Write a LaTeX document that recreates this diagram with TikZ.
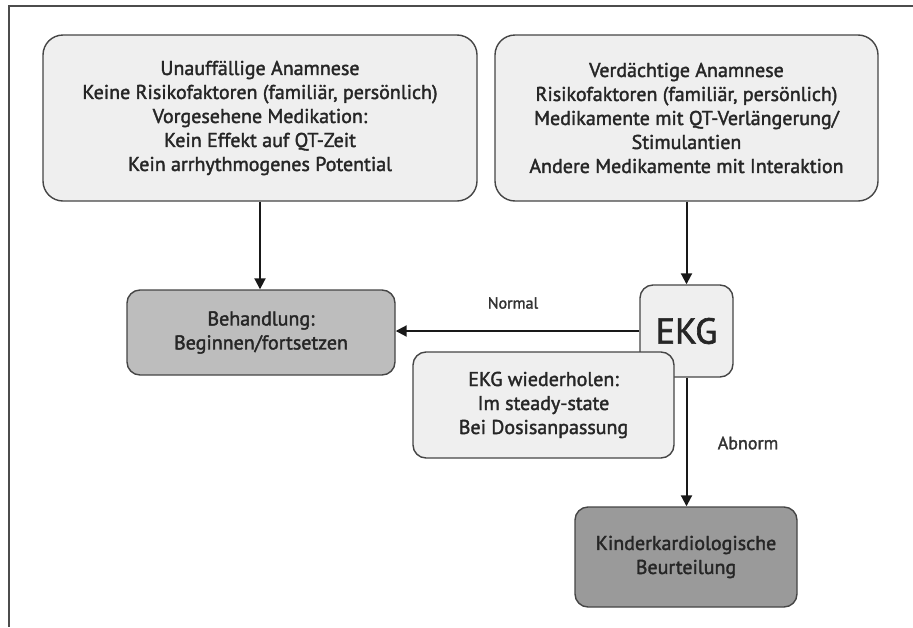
\documentclass[tikz,border=0pt]{standalone}
\usepackage{fontspec}
\setmainfont{PT Sans}
\newfontfamily\diafont[FakeBold=1.8]{PT Sans}
\usetikzlibrary{arrows.meta}
\definecolor{boxline}{HTML}{454545}
\definecolor{lightfill}{HTML}{EFEFEF}
\definecolor{midfill}{HTML}{BDBDBD}
\definecolor{darkfill}{HTML}{9A9A9A}
\tikzset{
  box/.style={draw=boxline, line width=1.4pt, rectangle, align=center, inner sep=0pt,
    font=\diafont\fontsize{20}{24}\selectfont, text=black!85},
  bigbox/.style={box, fill=lightfill, rounded corners=20pt, minimum width=434pt, minimum height=166pt},
  arr/.style={draw=black!90, line width=2pt, -{Triangle[length=11pt,width=11pt]}},
  lbl/.style={font=\diafont\fontsize{16}{18}\selectfont, text=black!80, inner sep=0pt},
  frame/.style={draw=black!70, line width=1.2pt}
}
\begin{document}
\begin{tikzpicture}[x=1pt,y=-1pt]
\useasboundingbox (0,0) rectangle (913,627);
\coordinate (ftl) at (9,6);
\coordinate (ftr) at (913,6);
\coordinate (fbl) at (9,627);
\draw[frame] (ftr) -- (ftl) -- (fbl);

\node[bigbox] (A) at (260,118) {Unauffällige Anamnese\\Keine Risikofaktoren (familiär, persönlich)\\Vorgesehene Medikation:\\Kein Effekt auf QT-Zeit\\Kein arrhythmogenes Potential};
\node[bigbox, minimum width=383pt] (B) at (686.5,118) {Verdächtige Anamnese\\Risikofaktoren (familiär, persönlich)\\Medikamente mit QT-Verlängerung/\\Stimulantien\\Andere Medikamente mit Interaktion};

\node[box, fill=midfill, rounded corners=13pt, minimum width=268pt, minimum height=85pt] (beh) at (261,332.5) {Behandlung:\\Beginnen/fortsetzen};
\node[box, fill=lightfill, rounded corners=13pt, minimum width=93pt, minimum height=92pt, font=\diafont\fontsize{36}{40}\selectfont] (ekg) at (686.5,331) {EKG};
\node[box, fill=lightfill, rounded corners=13pt, minimum width=261pt, minimum height=106pt] (wdh) at (543.5,405) {EKG wiederholen:\\Im steady-state\\Bei Dosisanpassung};
\node[box, fill=darkfill, rounded corners=13pt, minimum width=222pt, minimum height=100pt] (kind) at (686,557) {Kinderkardiologische\\Beurteilung};

\draw[arr] (A.south) -- (A.south |- beh.north);
\draw[arr] (B.south) -- (B.south |- ekg.north);
\draw[arr] (ekg.west) -- (ekg.west -| beh.east);
\draw[arr] (ekg.south) -- (ekg.south |- kind.north);

\node[lbl] (nlab) at (513,303) {Normal};
\node[lbl, font=\diafont\fontsize{18}{20}\selectfont] (alab) at (748,443) {Abnorm};
\end{tikzpicture}
\end{document}
